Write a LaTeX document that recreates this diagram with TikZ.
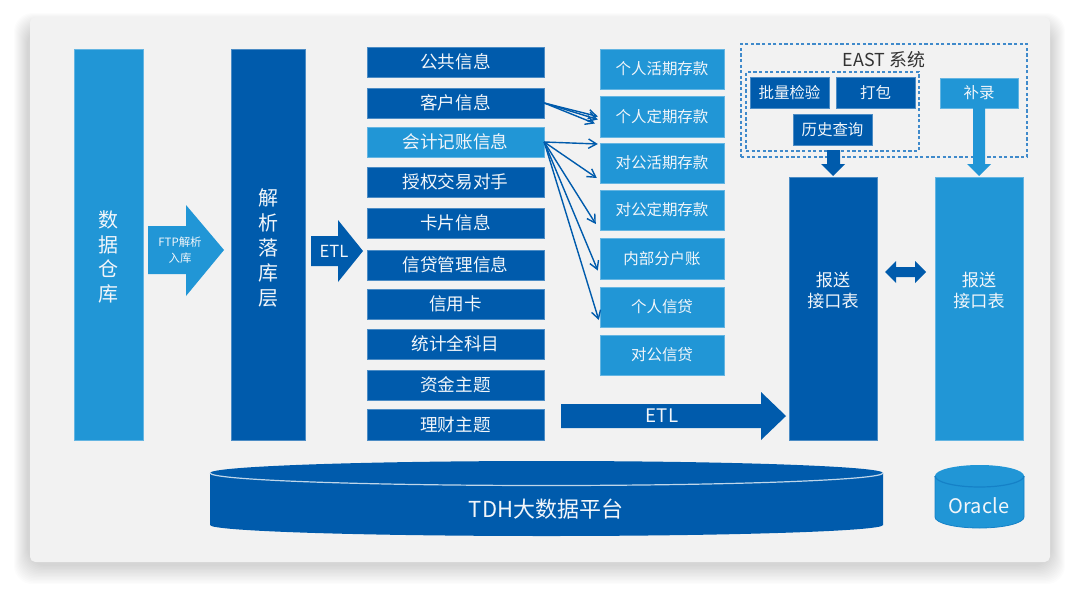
\documentclass[tikz,border=0pt]{standalone}
\usepackage{fontspec}
\setmainfont{Noto Sans CJK SC}
\definecolor{dk}{HTML}{005BAC}
\definecolor{lt}{HTML}{2196D6}
\definecolor{card}{HTML}{F2F2F2}
\definecolor{dashc}{HTML}{3F8ACB}
\definecolor{txt}{HTML}{F2F6FA}
\usetikzlibrary{arrows.meta}
\tikzset{
  boxd/.style={fill=dk,draw=dk!70!white,line width=0.3pt,text=txt,inner sep=0pt,align=center},
  boxl/.style={fill=lt,draw=lt!70!white,line width=0.3pt,text=txt,inner sep=0pt,align=center},
  lbl/.style={text=txt,inner sep=0pt,align=center},
  flow/.style={draw=dk,line width=1.05pt,-{Straight Barb[length=6pt,width=7pt,line width=1.05pt]}},
  dashbox/.style={draw=dashc,line width=0.9pt,dash pattern=on 2.4pt off 1.8pt},
  tall/.style={font=\fontsize{15}{18.6}\selectfont},
  rep/.style={font=\fontsize{12.8}{15.8}\selectfont},
  lf/.style={font=\fontsize{13.2}{16}\selectfont},
  rf/.style={font=\fontsize{11.6}{14}\selectfont},
  ef/.style={font=\fontsize{11.6}{14}\selectfont},
}
\newcommand\bx[7]{%
  \pgfmathsetlengthmacro\bw{(#4-#2)*0.75pt}%
  \pgfmathsetlengthmacro\bh{(#5-#3)*0.75pt}%
  \node[#6,minimum width=\bw,minimum height=\bh] (#1) at ({(#2+#4)/2},{(#3+#5)/2}) {#7};}
\begin{document}
\begin{tikzpicture}[x=0.75pt,y=-0.75pt]
\useasboundingbox (0,0) rectangle (1080,596);
\fill[white] (0,0) rectangle (1080,596);
% card shadow
\foreach \i in {0,...,13}{
  \fill[black,opacity=0.013,rounded corners=14pt] ({27-\i},{26-\i}) rectangle ({1052+\i},{566+1.4*\i});
}
\fill[card,rounded corners=4pt] (30,17) rectangle (1050,562);
% tall columns
\bx{dw}{74}{49}{143}{440}{boxl}{}
\node[lbl,tall] (dwt) at (108,257) {数\\据\\仓\\库};
\bx{parse}{231}{49}{305}{440}{boxd}{}
\node[lbl,tall] (parset) at (268,248) {解\\析\\落\\库\\层};
% subject list
\bx{pub}{367}{47}{544}{77}{boxd,lf}{\raisebox{-1.5pt}{公共信息}}
\bx{cust}{367}{88}{544}{118}{boxd,lf}{客户信息}
\bx{acct}{367}{127}{544}{157}{boxl,lf}{会计记账信息}
\bx{auth}{367}{167}{544}{197}{boxd,lf}{授权交易对手}
\bx{cardinfo}{367}{208}{544}{238}{boxd,lf}{卡片信息}
\bx{loan}{367}{250}{544}{280}{boxd,lf}{信贷管理信息}
\bx{cred}{367}{289}{544}{319}{boxd,lf}{信用卡}
\bx{stat}{367}{329}{544}{359}{boxd,lf}{统计全科目}
\bx{fund}{367}{370}{544}{400}{boxd,lf}{资金主题}
\bx{fin}{367}{409}{544}{440}{boxd,lf}{理财主题}
% product list
\bx{d1}{600}{49}{724}{89}{boxl,rf}{\raisebox{-1.5pt}{个人活期存款}}
\bx{d2}{600}{96}{724}{137}{boxl,rf}{个人定期存款}
\bx{d3}{600}{143}{724}{183}{boxl,rf}{对公活期存款}
\bx{d4}{600}{190}{724}{230}{boxl,rf}{对公定期存款}
\bx{d5}{600}{238}{724}{279}{boxl,rf}{内部分户账}
\bx{d6}{600}{287}{724}{327}{boxl,rf}{个人信贷}
\bx{d7}{600}{335}{724}{375}{boxl,rf}{对公信贷}
% thin arrows
\draw[flow] (cust.east) -- ([shift={(-2,0)}]d2.west);
\draw[flow] (cust.east) -- ([shift={(-2,3)}]d2.west);
\draw[flow] (cust.east) -- ([shift={(-5,7)}]d2.west);
\draw[flow] (acct.east) -- ([shift={(-2,-19)}]d3.west);
\draw[flow] (acct.east) -- ([shift={(-3,15)}]d3.west);
\draw[flow] (acct.east) -- ([shift={(-4,14)}]d4.west);
\draw[flow] (acct.east) -- ([shift={(-2,12)}]d5.west);
\draw[flow] (acct.east) -- ([shift={(-1,13)}]d6.west);
% EAST system
\bx{eastout}{741}{44}{1027}{157}{dashbox}{}
\bx{eastin}{746}{72}{919}{151}{dashbox}{}
\node[text=black!80,inner sep=0pt,font=\fontsize{13.4}{16}\selectfont] (easttitle) at (884,59.5) {EAST 系统};
\bx{batch}{750}{77}{829}{108}{boxd,ef}{批量检验}
\bx{pack}{836}{77}{915}{108}{boxd,ef}{打包}
\bx{hist}{793}{114}{872}{145}{boxd,ef}{历史查询}
\bx{supp}{940}{78}{1018}{108}{boxl,ef}{补录}
% report tables
\bx{repa}{789}{177}{877}{440}{boxd}{}
\node[lbl,rep] (repat) at (833,290.5) {报送\\接口表};
\bx{repb}{935}{177}{1023}{440}{boxl}{}
\node[lbl,rep] (repbt) at (979,290.5) {报送\\接口表};
% block arrows
\fill[dk] (827,150) -- (840,150) -- (840,164) -- (845,164) -- (833,176) -- (821,164) -- (827,164) -- cycle;
\fill[lt] (973,108) -- (985,108) -- (985,164) -- (991,164) -- (979,176) -- (967,164) -- (973,164) -- cycle;
\fill[dk] (885,272) -- (896,261) -- (896,267) -- (915,267) -- (915,261) -- (926,272) -- (915,283) -- (915,277) -- (896,277) -- (896,283) -- cycle;
\fill[dk] (561,404) -- (761,404) -- (761,392) -- (786,416) -- (761,440) -- (761,428) -- (561,428) -- cycle;
\node[lbl,font=\fontsize{14}{16}\selectfont] (etlb) at (662,416) {ETL};
\fill[dk] (311,236) -- (338,236) -- (338,220) -- (363,251) -- (338,282) -- (338,266) -- (311,266) -- cycle;
\node[lbl,font=\fontsize{12.5}{15}\selectfont] (etla) at (334,251) {ETL};
\fill[lt] (148,226) -- (186,226) -- (186,205) -- (224,250) -- (186,296) -- (186,274) -- (148,274) -- cycle;
\node[lbl,font=\fontsize{8.6}{12}\selectfont] (ftp) at (180,250) {FTP解析\\入库};
% TDH cylinder
\fill[dk] (210,473) arc[start angle=180,end angle=360,x radius=336.5,y radius=12] -- (883,525) arc[start angle=0,end angle=180,x radius=336.5,y radius=11] -- cycle;
\draw[white!75!dk,line width=0.9pt] (210,473) arc[start angle=180,end angle=0,x radius=336.5,y radius=12.5];
\node[lbl,font=\fontsize{16.5}{20}\selectfont] (tdh) at (546,509) {TDH大数据平台};
% Oracle cylinder
\fill[lt] (935,476) arc[start angle=180,end angle=360,x radius=44.5,y radius=11] -- (1024,517) arc[start angle=0,end angle=180,x radius=44.5,y radius=11] -- cycle;
\draw[dk!35!lt,line width=0.9pt] (935,476) arc[start angle=180,end angle=0,x radius=44.5,y radius=11];
\draw[dk!35!lt,line width=0.6pt] (935,476) -- (935,517) arc[start angle=180,end angle=0,x radius=44.5,y radius=11] -- (1024,476);
\node[lbl,font=\fontsize{15}{18}\selectfont] (ora) at (979,506) {Oracle};
\end{tikzpicture}
\end{document}
